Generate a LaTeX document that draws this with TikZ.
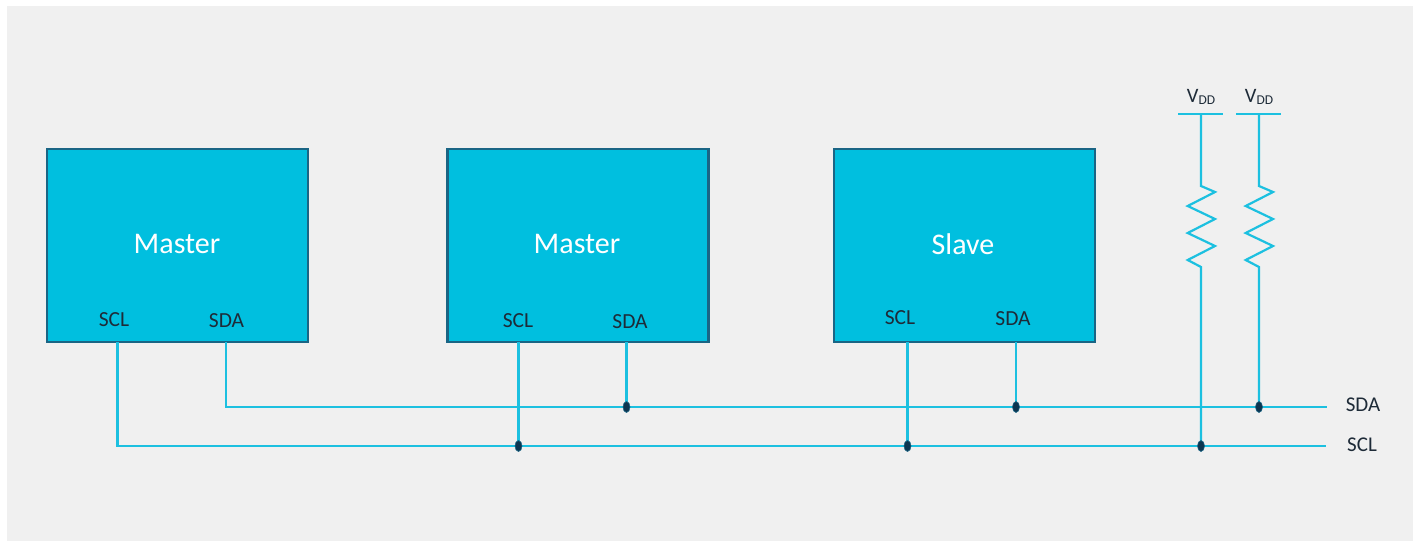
\documentclass[tikz,border=0pt]{standalone}
\usepackage{fontspec}
\setmainfont{Carlito}
\usetikzlibrary{shapes.geometric}
\definecolor{bg}{HTML}{F0F0F0}
\definecolor{boxfill}{HTML}{00BFDF}
\definecolor{boxedge}{HTML}{1A6585}
\definecolor{wire}{HTML}{1CC0E0}
\definecolor{txt}{HTML}{1E2B38}
\definecolor{dotc}{HTML}{0D3550}
\begin{document}
\begin{tikzpicture}[x=1pt,y=-1pt,
  chip/.style={draw=boxedge,line width=2.2pt,fill=boxfill,minimum width=261pt,minimum height=193pt,inner sep=0pt},
  chiplabel/.style={text=white,font=\fontsize{30}{33}\selectfont,inner sep=0pt},
  pinlabel/.style={text=txt,font=\fontsize{21.5}{25}\selectfont,inner sep=0pt},
  buslabel/.style={text=txt,font=\fontsize{21}{25}\selectfont,inner sep=0pt},
  vddlabel/.style={text=txt,font=\fontsize{20.5}{24}\selectfont,inner sep=0pt,anchor=base},
  wireline/.style={draw=wire,line width=2.2pt},
  railline/.style={draw=wire,line width=2.6pt},
  junction/.style={ellipse,fill=dotc,draw=boxedge,line width=0.6pt,minimum width=7pt,minimum height=11pt,inner sep=0pt},
]
\useasboundingbox (0,0) rectangle (1413,541);
\fill[bg] (7,6) rectangle (1413,541);

% chips
\node[chip] (m1) at (177.5,245.5) {};
\node[chip] (m2) at (578,245.5) {};
\node[chip] (s1) at (964.5,245.5) {};
\node[chiplabel] (m1t) at (177,244) {Master};
\node[chiplabel] (m2t) at (577,244) {Master};
\node[chiplabel] (s1t) at (963,244) {Slave};
\node[pinlabel] (m1sclt) at (114,320) {SCL};
\node[pinlabel] (m1sdat) at (226.5,321) {SDA};
\node[pinlabel] (m2sclt) at (518,320.5) {SCL};
\node[pinlabel] (m2sdat) at (630,322) {SDA};
\node[pinlabel] (s1sclt) at (900,318) {SCL};
\node[pinlabel] (s1sdat) at (1013,319) {SDA};

% pin coordinates
\coordinate (m1scl) at (117.5,342);
\coordinate (m1sda) at (226,342);
\coordinate (m2scl) at (518.5,342);
\coordinate (m2sda) at (626.5,342);
\coordinate (s1scl) at (907.5,342);
\coordinate (s1sda) at (1016,342);

% bus coordinates
\coordinate (sclbend) at (117.5,446);
\coordinate (sdabend) at (226,407);
\coordinate (sclend) at (1326,446);
\coordinate (sdaend) at (1327,407);

% junctions
\coordinate (j1) at (518.5,446);
\coordinate (j2) at (626.5,407);
\coordinate (j3) at (907.5,446);
\coordinate (j4) at (1016,407);
\coordinate (j5) at (1201,446);
\coordinate (j6) at (1259,407);

% VDD rails
\coordinate (vdd1l) at (1178,114);
\coordinate (vdd1r) at (1223,114);
\coordinate (vdd2l) at (1236,114);
\coordinate (vdd2r) at (1281,114);
\coordinate (vdd1) at (1201,114);
\coordinate (vdd2) at (1259,114);
\node[vddlabel] (vdd1t) at (1201,102.7) {V\raisebox{-1.3pt}{\fontsize{13.5}{13.5}\selectfont DD}};
\node[vddlabel] (vdd2t) at (1259,102.7) {V\raisebox{-1.3pt}{\fontsize{13.5}{13.5}\selectfont DD}};
\draw[railline] (vdd1l) -- (vdd1r);
\draw[railline] (vdd2l) -- (vdd2r);

% resistors
\draw[wireline,line join=miter] (vdd1) -- ++(0,72) -- ++(14,6) -- ++(-27.3,14) -- ++(27.3,13) -- ++(-27.3,14) -- ++(27.3,13) -- ++(-27.3,14) -- ++(13.3,7) -- (j5);
\draw[wireline,line join=miter] (vdd2) -- ++(0,72) -- ++(14,6) -- ++(-27.3,14) -- ++(27.3,13) -- ++(-27.3,14) -- ++(27.3,13) -- ++(-27.3,14) -- ++(13.3,7) -- (j6);

% bus wires
\draw[wireline] (m1scl) -- (sclbend) -- (sclend);
\draw[wireline] (m1sda) -- (sdabend) -- (sdaend);
\draw[wireline] (m2scl) -- (j1);
\draw[wireline] (m2sda) -- (j2);
\draw[wireline] (s1scl) -- (j3);
\draw[wireline] (s1sda) -- (j4);

% junction dots
\node[junction] (d1) at (j1) {};
\node[junction] (d2) at (j2) {};
\node[junction] (d3) at (j3) {};
\node[junction] (d4) at (j4) {};
\node[junction] (d5) at (j5) {};
\node[junction] (d6) at (j6) {};

% bus labels
\node[buslabel] (sdat) at (1363,405) {SDA};
\node[buslabel] (sclt) at (1362,445) {SCL};
\end{tikzpicture}
\end{document}
